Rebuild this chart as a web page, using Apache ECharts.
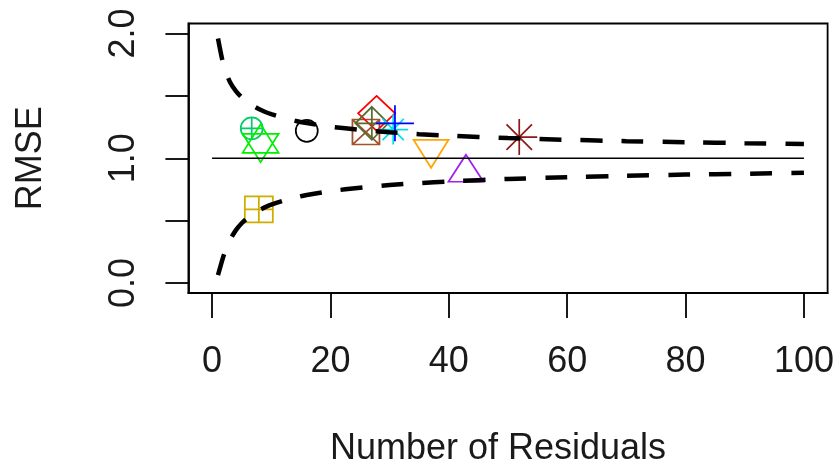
<!DOCTYPE html>
<html>
<head>
<meta charset="utf-8">
<script src="https://cdn.jsdelivr.net/npm/echarts@6/dist/echarts.min.js"></script>
<style>
  html, body { margin: 0; padding: 0; background: #fff; }
  #chart { width: 838px; height: 463px; }
</style>
</head>
<body>
<div id="chart"></div>
<script>
// Confidence band for RMSE as a function of the number of residuals
const boundN = [1, 2, 3, 4, 5, 6, 7, 8, 9, 10, 12, 14, 16, 18, 20, 25, 30, 35, 40, 50, 60, 70, 80, 90, 100];
const upperBound = [1.960, 1.731, 1.614, 1.540, 1.488, 1.449, 1.418, 1.392, 1.371, 1.353, 1.324, 1.301, 1.282, 1.266, 1.253, 1.227, 1.208, 1.193, 1.181, 1.162, 1.148, 1.137, 1.129, 1.121, 1.115];
const lowerBound = [0.063, 0.226, 0.342, 0.422, 0.479, 0.522, 0.556, 0.584, 0.608, 0.628, 0.660, 0.685, 0.705, 0.722, 0.737, 0.764, 0.785, 0.801, 0.814, 0.834, 0.848, 0.860, 0.869, 0.876, 0.883];

// Reference line RMSE = 1
const refN = [0, 100];
const refRMSE = [1, 1];

// Observed RMSE for each residual set
const pointN    = [16.0, 6.7, 8.2, 7.9, 26.0, 27.8, 27.0, 30.6, 30.9, 37.0, 42.9, 51.9];
const pointRMSE = [1.22, 1.24, 1.12, 0.59, 1.21, 1.36, 1.28, 1.23, 1.28, 1.035, 0.92, 1.17];

// Axis ticks
const xTicks = [0, 20, 40, 60, 80, 100];
const yTicks = [0, 0.5, 1, 1.5, 2];
const yTickLabels = [0, 1, 2];

// Plotting symbols (R-style pch glyphs)
const SYM = {
  circle: 'circle',
  circlePlus: 'path://M0 50A50 50 0 1 0 100 50A50 50 0 1 0 0 50ZM50 0L50 100M0 50L100 50',
  sextile: 'path://M50 0L100 75L0 75ZM0 25L100 25L50 100Z',
  squarePlus: 'path://M0 0L100 0L100 100L0 100ZM50 0L50 100M0 50L100 50',
  squareCross: 'path://M0 0L100 0L100 100L0 100ZM0 0L100 100M100 0L0 100',
  diamond: 'path://M50 0L100 50L50 100L0 50Z',
  diamondPlus: 'path://M50 0L100 50L50 100L0 50ZM50 0L50 100M0 50L100 50',
  asterisk: 'path://M50 0L50 100M0 50L100 50M14.6 14.6L85.4 85.4M85.4 14.6L14.6 85.4',
  plus: 'path://M50 0L50 100M0 50L100 50',
  triDown: 'path://M0 0L100 0L50 100Z',
  triUp: 'path://M50 0L100 100L0 100Z'
};
const markerStyles = [
  { symbol: SYM.circle,      size: [22, 22], color: '#000000' },
  { symbol: SYM.circlePlus,  size: [22, 22], color: '#00CD66' },
  { symbol: SYM.sextile,     size: [36, 38], color: '#00EE00' },
  { symbol: SYM.squarePlus,  size: [28, 26], color: '#CDAD00' },
  { symbol: SYM.squareCross, size: [27, 25], color: '#A0522D' },
  { symbol: SYM.diamond,     size: [37, 35], color: '#FF0000' },
  { symbol: SYM.diamondPlus, size: [33, 33], color: '#556B2F' },
  { symbol: SYM.asterisk,    size: [30, 30], color: '#00DDEE' },
  { symbol: SYM.plus,        size: [38, 36], color: '#0000FF' },
  { symbol: SYM.triDown,     size: [35, 28], color: '#FFA500' },
  { symbol: SYM.triUp,       size: [35, 27], color: '#A020F0' },
  { symbol: SYM.asterisk,    size: [36, 36], color: '#8B1A1A' }
];

const FONT = 'Liberation Sans, Arial, Helvetica, sans-serif';
const TEXT = '#1a1a1a';
const zip = (a, b) => a.map((v, i) => [v, b[i]]);

const chart = echarts.init(document.getElementById('chart'), null, { renderer: 'canvas' });

chart.setOption({
  animation: false,
  backgroundColor: '#ffffff',
  grid: {
    left: 188.4, right: 10.4, top: 23.5, bottom: 170,
    containLabel: false, outerBoundsMode: 'none',
    show: true, borderColor: '#000', borderWidth: 1.8, backgroundColor: 'transparent'
  },
  xAxis: {
    type: 'value', min: -4, max: 104,
    axisLine: { show: true, onZero: false, lineStyle: { color: '#000', width: 1.8 } },
    axisTick: { show: true, customValues: xTicks, length: 25, lineStyle: { color: '#000', width: 1.8 } },
    axisLabel: { customValues: xTicks, fontSize: 36, color: TEXT, margin: 51, fontFamily: FONT },
    splitLine: { show: false },
    name: 'Number of Residuals', nameLocation: 'middle', nameGap: 138,
    nameTextStyle: { fontSize: 36, color: TEXT, fontFamily: FONT, padding: [0, 20, 0, 0] }
  },
  yAxis: {
    type: 'value', min: -0.08, max: 2.08,
    axisLine: { show: true, onZero: false, lineStyle: { color: '#000', width: 1.8 } },
    axisTick: { show: true, customValues: yTicks, length: 23, lineStyle: { color: '#000', width: 1.8 } },
    axisLabel: {
      customValues: yTickLabels, rotate: 90, fontSize: 36, color: TEXT, margin: 46, fontFamily: FONT,
      formatter: v => Number(v).toFixed(1)
    },
    splitLine: { show: false },
    name: 'RMSE', nameLocation: 'middle', nameGap: 139, nameRotate: 90,
    nameTextStyle: { fontSize: 36, color: TEXT, fontFamily: FONT }
  },
  series: [
    {
      type: 'scatter',
      silent: true,
      data: pointN.map((n, i) => ({
        value: [n, pointRMSE[i]],
        symbol: markerStyles[i].symbol,
        symbolSize: markerStyles[i].size,
        itemStyle: { color: 'none', borderColor: markerStyles[i].color, borderWidth: 1.7, opacity: 1 }
      }))
    },
    {
      type: 'line', silent: true, showSymbol: false, symbol: 'none',
      data: zip(refN, refRMSE),
      lineStyle: { color: '#000', width: 1.6 }
    },
    {
      type: 'line', silent: true, showSymbol: false, symbol: 'none', smooth: 0.2,
      data: zip(boundN, upperBound),
      lineStyle: { color: '#000', width: 4.5, type: [22, 19], cap: 'butt' }
    },
    {
      type: 'line', silent: true, showSymbol: false, symbol: 'none', smooth: 0.2,
      data: zip(boundN, lowerBound),
      lineStyle: { color: '#000', width: 4.5, type: [22, 19], cap: 'butt' }
    }
  ]
});
</script>
</body>
</html>
